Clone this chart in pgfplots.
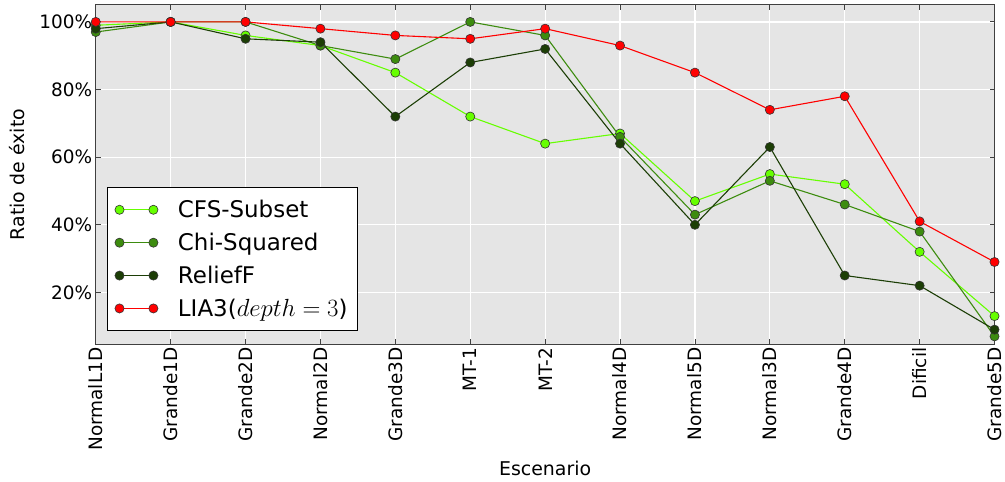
\documentclass[border=0pt]{standalone}
\usepackage{fontspec}
\setmainfont{DejaVu Sans}
\usepackage{pgfplots}
\pgfplotsset{compat=1.18}
\usetikzlibrary{calc}

\definecolor{cfs}{RGB}{102,255,0}
\definecolor{chi}{RGB}{61,140,15}
\definecolor{relief}{RGB}{28,62,6}
\definecolor{lia}{RGB}{255,0,0}
\definecolor{bgc}{RGB}{229,229,229}

\begin{document}
\begin{tikzpicture}
\begin{axis}[
  scale only axis,
  width=901pt, height=340pt,
  xmin=0, xmax=12,
  ymin=4.7, ymax=105,
  axis background/.style={fill=bgc},
  axis line style={black!75, line width=1pt},
  xtick={0,...,12},
  xticklabels={NormalL1D,Grande1D,Grande2D,Normal2D,Grande3D,MT-1,MT-2,Normal4D,Normal5D,Normal3D,Grande4D,Dificil,Grande5D},
  x tick label style={rotate=90, anchor=east, font=\fontsize{18.5}{20}\selectfont},
  ytick={20,40,60,80,100},
  yticklabels={20\%,40\%,60\%,80\%,100\%},
  y tick label style={font=\fontsize{18.5}{20}\selectfont},
  tick align=inside,
  major tick length=5pt,
  tick style={black!75, line width=0.8pt},
  grid=major,
  major grid style={white, line width=1.3pt},
  xlabel={Escenario},
  ylabel={Ratio de éxito},
  label style={font=\fontsize{19}{22}\selectfont},
  xlabel style={at={(rel axis cs:0.5,0)}, anchor=base, yshift=-132pt},
  ylabel style={at={(rel axis cs:0,0.5)}, anchor=base, yshift=71pt},
  every axis plot/.append style={line width=1.1pt, mark=*, mark size=4.6pt},
  legend image code/.code={\draw plot coordinates {(0pt,0pt) (34pt,0pt)};},
  legend style={at={(rel axis cs:0.012,0.038)}, anchor=south west,
    draw=black, fill=white, line width=0.8pt,
    font=\fontsize{23}{27}\selectfont,
    row sep=10pt, column sep=18pt, inner xsep=8pt, inner ysep=11pt},
  legend cell align=left,
]
% CFS-Subset
\addplot[color=cfs, mark options={fill=cfs, draw=black!80, line width=0.6pt}] coordinates {
 (0,99) (1,100) (2,96) (3,93) (4,85) (5,72) (6,64) (7,67) (8,47) (9,55) (10,52) (11,32) (12,13)};
\addlegendentry{CFS-Subset}
% Chi-Squared
\addplot[color=chi, mark options={fill=chi, draw=black!80, line width=0.6pt}] coordinates {
 (0,97) (1,100) (2,100) (3,93) (4,89) (5,100) (6,96) (7,66) (8,43) (9,53) (10,46) (11,38) (12,7)};
\addlegendentry{Chi-Squared}
% ReliefF
\addplot[color=relief, mark options={fill=relief, draw=black!80, line width=0.6pt}] coordinates {
 (0,98) (1,100) (2,95) (3,94) (4,72) (5,88) (6,92) (7,64) (8,40) (9,63) (10,25) (11,22) (12,9)};
\addlegendentry{ReliefF}
% LIA3
\addplot[color=lia, mark options={fill=lia, draw=black!80, line width=0.6pt}] coordinates {
 (0,100) (1,100) (2,100) (3,98) (4,96) (5,95) (6,98) (7,93) (8,85) (9,74) (10,78) (11,41) (12,29)};
\addlegendentry{LIA3($depth=3$)}
\end{axis}
\path (current axis.south west) ++(-96pt,-138pt) rectangle ($(current axis.north east)+(8pt,5pt)$);
\end{tikzpicture}
\end{document}
